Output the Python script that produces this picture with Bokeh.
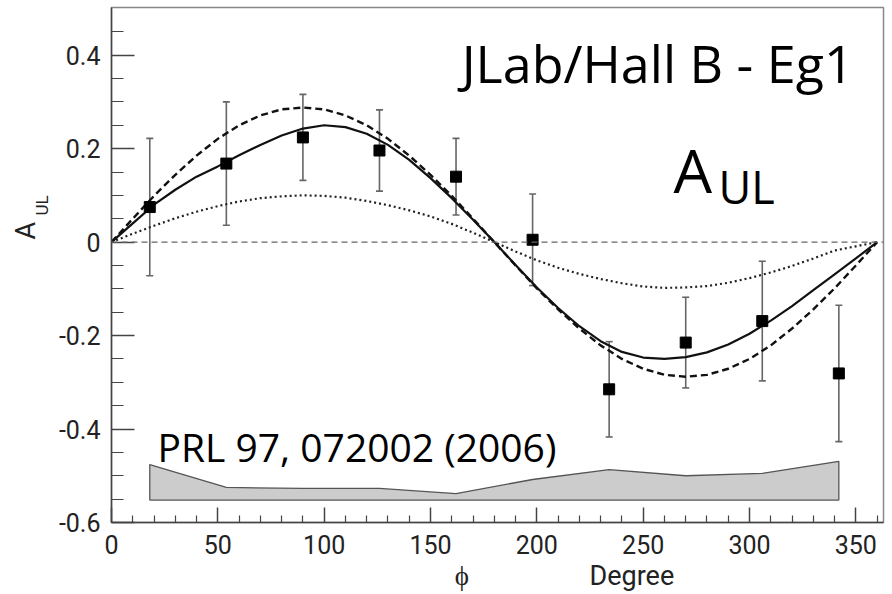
from bokeh.plotting import figure
from bokeh.models import Range1d, FixedTicker, Label, Whisker, ColumnDataSource, TeeHead, Span, Title, LinearAxis
from bokeh.embed import file_html
from bokeh.resources import INLINE

# data points
phi = [18, 54, 90, 126, 162, 198, 234, 270, 306, 342]
a_ul = [0.075, 0.168, 0.224, 0.196, 0.140, 0.005, -0.315, -0.215, -0.169, -0.281]
err = [0.147, 0.132, 0.092, 0.087, 0.082, 0.098, 0.102, 0.097, 0.128, 0.146]

# systematic error band
sys_top = [-0.476, -0.525, -0.527, -0.527, -0.538, -0.508, -0.487, -0.500, -0.495, -0.469]
sys_base = -0.552

# model curves
phi_curve = [0, 10, 20, 30, 40, 50, 60, 70, 80, 90, 100, 110, 120, 130, 140, 150, 160, 170, 180,
             190, 200, 210, 220, 230, 240, 250, 260, 270, 280, 290, 300, 310, 320, 330, 340, 350, 360]
solid = [0.0, 0.040, 0.080, 0.112, 0.140, 0.162, 0.186, 0.208, 0.228, 0.243, 0.250, 0.246, 0.232,
         0.208, 0.176, 0.137, 0.094, 0.048, 0.0, -0.049, -0.097, -0.141, -0.180, -0.212, -0.235,
         -0.247, -0.250, -0.246, -0.236, -0.219, -0.196, -0.168, -0.137, -0.103, -0.069, -0.035, 0.0]
dashed = [0.0, 0.050, 0.099, 0.144, 0.185, 0.221, 0.250, 0.271, 0.284, 0.288, 0.284, 0.271, 0.250,
          0.221, 0.185, 0.144, 0.099, 0.050, 0.0, -0.050, -0.099, -0.144, -0.185, -0.221, -0.250,
          -0.271, -0.284, -0.288, -0.284, -0.271, -0.250, -0.221, -0.185, -0.144, -0.099, -0.050, 0.0]
dotted = [0.0, 0.018, 0.035, 0.051, 0.065, 0.077, 0.087, 0.094, 0.098, 0.100, 0.099, 0.095, 0.088,
          0.079, 0.068, 0.055, 0.039, 0.020, 0.0, -0.020, -0.039, -0.055, -0.068, -0.079, -0.088,
          -0.095, -0.098, -0.097, -0.094, -0.087, -0.077, -0.065, -0.051, -0.035, -0.018, -0.009, 0.0]

x_ticks = [0, 50, 100, 150, 200, 250, 300, 350]
x_minor = [10, 20, 30, 40, 60, 70, 80, 90, 110, 120, 130, 140, 160, 170, 180, 190, 210, 220, 230,
           240, 260, 270, 280, 290, 310, 320, 330, 340, 360]
y_ticks = [-0.6, -0.4, -0.2, 0, 0.2, 0.4]
y_minor = [-0.55, -0.5, -0.45, -0.35, -0.3, -0.25, -0.15, -0.1, -0.05, 0.05, 0.1, 0.15, 0.25, 0.3, 0.35, 0.45]
y_labels = {-0.6: "-0.6", -0.4: "-0.4", -0.2: "-0.2", 0: "0", 0.2: "0.2", 0.4: "0.4"}

FONT = "Open Sans"
AXFONT = "Roboto"
NB = "\u00a0"

p = figure(width=892, height=594, output_backend="svg", toolbar_location=None,
           x_range=Range1d(0, 363), y_range=Range1d(-0.6, 0.502),
           x_axis_location=None, y_axis_location=None,
           min_border_left=111, min_border_right=9, min_border_top=7, min_border_bottom=69)
p.grid.visible = False
p.background_fill_color = "white"
p.outline_line_color = "#888888"
p.outline_line_width = 1.5

xaxis = LinearAxis(ticker=FixedTicker(ticks=x_ticks, minor_ticks=x_minor))
yaxis = LinearAxis(ticker=FixedTicker(ticks=y_ticks, minor_ticks=y_minor),
                   major_label_overrides=y_labels)

for ax in (xaxis, yaxis):
    ax.axis_line_color = "#444444"
    ax.axis_line_width = 1.5
    ax.major_tick_line_color = "#444444"
    ax.minor_tick_line_color = "#444444"
    ax.major_tick_line_width = 1.5
    ax.minor_tick_line_width = 1.2
    ax.major_tick_out = 0
    ax.minor_tick_out = 0
    ax.major_label_text_font = AXFONT
    ax.major_label_text_font_size = "25px"
    ax.major_label_text_color = "#222222"

xaxis.major_tick_in = 15
xaxis.minor_tick_in = 7
xaxis.major_label_standoff = 12
xaxis.axis_label = NB * 20 + "\u03d5" + NB * 18 + "Degree"
xaxis.axis_label_text_font = AXFONT
xaxis.axis_label_text_font_size = "27px"
xaxis.axis_label_text_font_style = "normal"
xaxis.axis_label_text_color = "#222222"
xaxis.axis_label_standoff = 3

yaxis.major_tick_in = 23
yaxis.minor_tick_in = 12
yaxis.major_label_standoff = 11

p.add_layout(xaxis, "below")
p.add_layout(yaxis, "left")
# y-axis title A_UL built from two side titles (subscript closer to the axis)
p.add_layout(Title(text="UL", text_font=AXFONT, text_font_size="17px", text_font_style="normal",
                   text_color="#222222", align="left", offset=307, standoff=8), "left")
p.add_layout(Title(text="A", text_font=AXFONT, text_font_size="27px", text_font_style="normal",
                   text_color="#222222", align="left", offset=283, standoff=-32), "left")

# systematic band
band_x = phi + phi[::-1]
band_y = sys_top + [sys_base] * len(phi)
p.patch(band_x, band_y, fill_color="#cccccc", line_color="#555555", line_width=1.3)

# zero line
p.add_layout(Span(location=0, dimension="width", line_color="#666666", line_width=1.3, line_dash="6 4"))

# curves
p.line(phi_curve, dotted, line_color="#222222", line_width=2.2, line_dash="2 3")
p.line(phi_curve, dashed, line_color="#111111", line_width=2.4, line_dash="7 4")
p.line(phi_curve, solid, line_color="#111111", line_width=2.2)

# data with error bars
src = ColumnDataSource(data=dict(
    x=phi, y=a_ul,
    upper=[v + e for v, e in zip(a_ul, err)],
    lower=[v - e for v, e in zip(a_ul, err)]))
p.add_layout(Whisker(source=src, base="x", upper="upper", lower="lower",
                     line_color="#666666", line_width=1.6,
                     upper_head=TeeHead(size=7, line_color="#666666", line_width=1.6),
                     lower_head=TeeHead(size=7, line_color="#666666", line_width=1.6)))
p.scatter("x", "y", source=src, marker="square", size=11, fill_color="black", line_color="black")

# annotations
p.add_layout(Label(x=349, y=0.385, text="JLab/Hall B - Eg1", text_font=FONT, text_font_size="52px",
                   text_align="right", text_baseline="alphabetic", text_color="black"))
p.add_layout(Label(x=264.2, y=0.155, text="A", text_font=FONT, text_font_size="61px",
                   text_align="left", text_baseline="alphabetic", text_color="black"))
p.add_layout(Label(x=285.4, y=0.119, text="UL", text_font=FONT, text_font_size="45px",
                   text_align="left", text_baseline="alphabetic", text_color="black"))
p.add_layout(Label(x=21.6, y=-0.437, text="PRL 97, 072002 (2006)", text_font=FONT, text_font_size="39px",
                   text_align="left", text_baseline="alphabetic", text_color="black"))

open("out.html", "w").write(file_html(p, INLINE))
